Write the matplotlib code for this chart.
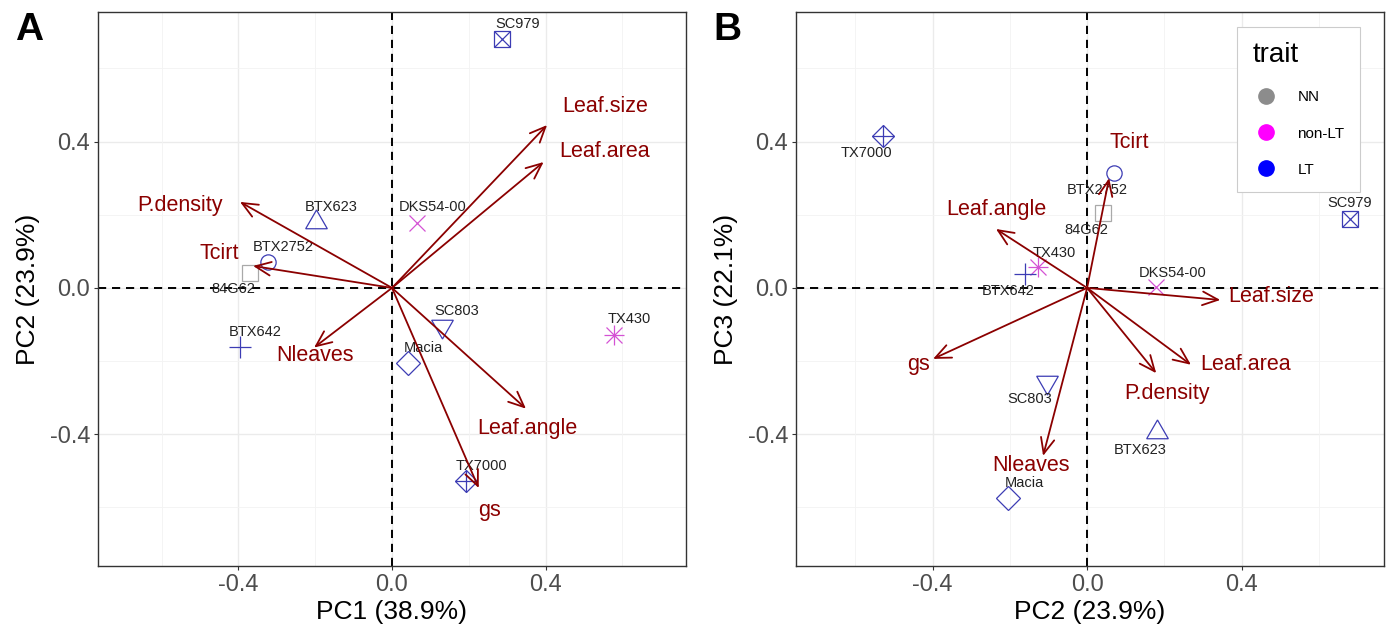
import matplotlib
matplotlib.use("Agg")
import matplotlib.pyplot as plt
from matplotlib.lines import Line2D

plt.rcParams['font.family'] = ['Liberation Sans', 'DejaVu Sans']

# ---------------- data ----------------
genotypes = ["SC979", "BTX623", "DKS54-00", "BTX2752", "84G62",
             "SC803", "TX430", "BTX642", "Macia", "TX7000"]
groups = ["LT", "LT", "non-LT", "LT", "NN",
          "LT", "non-LT", "LT", "LT", "LT"]
pc1 = [0.287, -0.198, 0.065, -0.323, -0.370, 0.130, 0.578, -0.396, 0.042, 0.193]
pc2 = [0.680, 0.180, 0.178, 0.070, 0.042, -0.105, -0.128, -0.162, -0.206, -0.528]
pc3 = [0.189, -0.393, 0.003, 0.314, 0.205, -0.257, 0.057, 0.038, -0.574, 0.415]

traits = ["Leaf.size", "Leaf.area", "P.density", "Tcirt", "Nleaves", "Leaf.angle", "gs"]
# loadings (arrow tips), panel A: PC1 vs PC2
loadA_x = [0.404, 0.395, -0.396, -0.362, -0.203, 0.349, 0.226]
loadA_y = [0.445, 0.344, 0.235, 0.060, -0.163, -0.330, -0.547]
# loadings (arrow tips), panel B: PC2 vs PC3
loadB_x = [0.345, 0.269, 0.179, 0.057, -0.114, -0.236, -0.399]
loadB_y = [-0.033, -0.210, -0.233, 0.300, -0.459, 0.161, -0.194]
# trait label positions
labA_x = [0.555, 0.555, -0.552, -0.450, -0.200, 0.352, 0.253]
labA_y = [0.495, 0.374, 0.224, 0.095, -0.186, -0.385, -0.609]
labB_x = [0.476, 0.410, 0.207, 0.108, -0.145, -0.236, -0.438]
labB_y = [-0.024, -0.208, -0.288, 0.397, -0.486, 0.213, -0.208]

legend_levels = ["NN", "non-LT", "LT"]
xlabA, ylabA = "PC1 (38.9%)", "PC2 (23.9%)"
xlabB, ylabB = "PC2 (23.9%)", "PC3 (22.1%)"

# ---------------- style ----------------
group_col = {"NN": "#a9a9a9", "non-LT": "#d452d4", "LT": "#3c3cb4"}
legend_col = {"NN": "#8c8c8c", "non-LT": "#ff00ff", "LT": "#0000ff"}
# shape per genotype (ggplot shapes 0-9 by alphabetical order)
shape_parts = {
    "84G62": [("s", 12)],
    "BTX2752": [("o", 11)],
    "BTX623": [((3, 0, 0), 18)],
    "BTX642": [("+", 16)],
    "DKS54-00": [("x", 12)],
    "Macia": [("D", 12)],
    "SC803": [((3, 0, 180), 18)],
    "SC979": [("s", 12), ("x", 12)],
    "TX430": [("+", 14), ("x", 11)],
    "TX7000": [("D", 11), ("+", 15.6)],
}
# label offsets in points
offA = {g: (11, 11) for g in genotypes}
offA["84G62"] = (-12, -12)
offB = {g: (-12, -12) for g in genotypes}
offB.update({"SC979": (0, 11), "TX430": (12, 10), "DKS54-00": (12, 10),
             "Macia": (12, 11), "BTX623": (-12, -13)})

arrow_col = "#8B0000"
W, H = 1391, 634
fig = plt.figure(figsize=(W / 100, H / 100), dpi=100)
axA = fig.add_axes([98 / W, (H - 566) / H, 588 / W, 554 / H])
axB = fig.add_axes([796 / W, (H - 566) / H, 588 / W, 554 / H])


def style_axes(ax, xlim, ylim, xlabel, ylabel):
    ax.set_xlim(*xlim)
    ax.set_ylim(*ylim)
    ticks = [-0.4, 0.0, 0.4]
    minor = [-0.6, -0.2, 0.2, 0.6]
    ax.set_xticks(ticks)
    ax.set_yticks(ticks)
    ax.set_xticklabels(["-0.4", "0.0", "0.4"])
    ax.set_yticklabels(["-0.4", "0.0", "0.4"])
    for v in ticks:
        ax.axvline(v, color="#ebebeb", lw=1.0, zorder=0)
        ax.axhline(v, color="#ebebeb", lw=1.0, zorder=0)
    for v in minor:
        ax.axvline(v, color="#f3f3f3", lw=0.6, zorder=0)
        ax.axhline(v, color="#f3f3f3", lw=0.6, zorder=0)
    ax.axvline(0, color="black", lw=1.4, ls=(0, (4.2, 3.0)), zorder=1)
    ax.axhline(0, color="black", lw=1.4, ls=(0, (4.2, 3.0)), zorder=1)
    for s in ax.spines.values():
        s.set_color("#333333")
        s.set_linewidth(1.0)
    ax.tick_params(length=3, width=0.8, color="#333333", labelcolor="#4d4d4d",
                   labelsize=17, pad=2.5)
    ax.set_xlabel(xlabel, fontsize=19, color="black", labelpad=3)
    ax.set_ylabel(ylabel, fontsize=19, color="black", labelpad=7)


def draw_panel(ax, xs, ys, offs, lx, ly, tx, ty):
    for g, grp, x, y in zip(genotypes, groups, xs, ys):
        for m, ms in shape_parts[g]:
            ax.plot([x], [y], marker=m, ms=ms, mfc="none", mec=group_col[grp],
                    mew=0.9, ls="none", zorder=3)
        ax.annotate(g, (x, y), xytext=offs[g], textcoords="offset points",
                    ha="center", va="center", fontsize=10.5, color="#222222",
                    zorder=4)
    for t, x, y, a, b in zip(traits, lx, ly, tx, ty):
        ax.annotate("", xy=(x, y), xytext=(0, 0),
                    arrowprops=dict(arrowstyle="->,head_length=0.8,head_width=0.35",
                                    color=arrow_col, lw=1.3, shrinkA=0, shrinkB=0,
                                    mutation_scale=14),
                    zorder=5)
        ax.text(a, b, t, ha="center", va="center", fontsize=15.5,
                color=arrow_col, zorder=6)


style_axes(axA, (-0.766, 0.766), (-0.76, 0.754), xlabA, ylabA)
style_axes(axB, (-0.754, 0.769), (-0.76, 0.754), xlabB, ylabB)
draw_panel(axA, pc1, pc2, offA, loadA_x, loadA_y, labA_x, labA_y)
draw_panel(axB, pc2, pc3, offB, loadB_x, loadB_y, labB_x, labB_y)

fig.text(29 / W, 1 - 30 / H, "A", fontsize=28, fontweight="bold", ha="center", va="center")
fig.text(727 / W, 1 - 30 / H, "B", fontsize=28, fontweight="bold", ha="center", va="center")

handles = [Line2D([], [], marker="o", ls="none", ms=11, mfc=legend_col[l],
                  mec=legend_col[l], label=l) for l in legend_levels]
leg = axB.legend(handles=handles, title="trait", loc="upper left",
                 bbox_to_anchor=(1237 / W, 1 - 27 / H), bbox_transform=fig.transFigure,
                 borderaxespad=0,
                 fontsize=11, title_fontsize=20, frameon=True, fancybox=False,
                 edgecolor="#cccccc", framealpha=1, labelspacing=1.45,
                 handlelength=1.8, handletextpad=1.15, borderpad=1.0,
                 alignment="left")
leg.get_frame().set_linewidth(0.8)

fig.savefig("out.png", dpi=100)
